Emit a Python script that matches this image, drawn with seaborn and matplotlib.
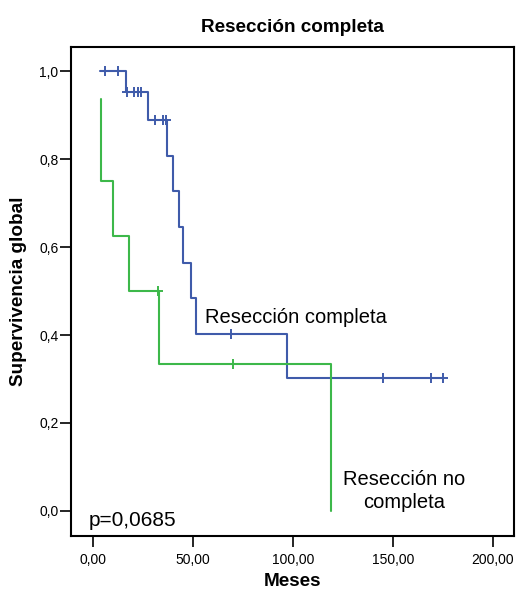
import matplotlib
matplotlib.use("Agg")
import matplotlib.pyplot as plt
import seaborn as sns

# Kaplan-Meier step curves (months, survival)
completa_t = [3.5, 16.5, 27.7, 37.0, 40.2, 43.2, 45.2, 49.0, 51.5, 96.8, 175.2]
completa_s = [1.0, 0.952, 0.889, 0.807, 0.727, 0.646, 0.564, 0.485, 0.403, 0.302, 0.302]
completa_cens = [6.0, 12.3, 17.0, 20.7, 22.3, 24.0, 31.0, 34.8, 36.5, 69.0, 145.2, 168.8, 175.2]

no_completa_t = [3.8, 3.8, 9.8, 18.0, 32.8, 119.0]
no_completa_s = [0.9375, 0.75, 0.625, 0.5, 0.333, 0.0]
no_completa_cens = [32.3, 70.2]

x_ticks = [0, 50, 100, 150, 200]
x_ticklabels = ["0,00", "50,00", "100,00", "150,00", "200,00"]
y_ticks = [0.0, 0.2, 0.4, 0.6, 0.8, 1.0]
y_ticklabels = ["0,0", "0,2", "0,4", "0,6", "0,8", "1,0"]

BLUE = "#3F5BAA"
GREEN = "#3DB84A"

sns.set_style("ticks")
plt.rcParams["font.family"] = ["Liberation Sans", "DejaVu Sans"]
plt.rcParams.update({
    "text.color": "black",
    "axes.labelcolor": "black",
    "xtick.color": "black",
    "ytick.color": "black",
    "axes.edgecolor": "black",
})


def step_value(times, surv, t):
    """Survival value of a steps-post curve at time t."""
    val = surv[0]
    for ti, si in zip(times, surv):
        if ti <= t:
            val = si
    return val


W, H = 518, 591
fig = plt.figure(figsize=(W / 100, H / 100), dpi=100)
ax = fig.add_axes([71 / W, 1 - 536 / H, (514 - 71) / W, (536 - 47) / H])

sns.lineplot(x=completa_t, y=completa_s, estimator=None, sort=False,
             drawstyle="steps-post", color=BLUE, lw=1.5, ax=ax)
sns.lineplot(x=no_completa_t, y=no_completa_s, estimator=None, sort=False,
             drawstyle="steps-post", color=GREEN, lw=1.5, ax=ax)

sns.scatterplot(x=completa_cens,
                y=[step_value(completa_t, completa_s, t) for t in completa_cens],
                marker="+", s=45, linewidth=1.4, color=BLUE, ax=ax, zorder=3)
sns.scatterplot(x=no_completa_cens,
                y=[step_value(no_completa_t, no_completa_s, t) for t in no_completa_cens],
                marker="+", s=45, linewidth=1.4, color=GREEN, ax=ax, zorder=3)

ax.set_xlim(-11, 210.5)
ax.set_ylim(-0.057, 1.055)
ax.set_xticks(x_ticks)
ax.set_xticklabels(x_ticklabels)
ax.set_yticks(y_ticks)
ax.set_yticklabels(y_ticklabels)
ax.tick_params(axis="both", direction="out", length=8, width=1.2,
               labelsize=10, color="black", labelcolor="black")
ax.tick_params(axis="x", pad=4)
ax.tick_params(axis="y", pad=1)
for sp in ax.spines.values():
    sp.set_visible(True)
    sp.set_linewidth(1.5)
    sp.set_color("black")

ax.set_xlabel("")
ax.set_ylabel("")
ax.set_title("Resección completa", fontsize=13.6, fontweight="bold", pad=10.8)
fig.text(292.5 / W, 1 - 586 / H, "Meses", fontsize=13.6, fontweight="bold",
         ha="center", va="baseline")
fig.text(18.5 / W, 1 - 291 / H, "Supervivencia global", fontsize=13.6,
         fontweight="bold", rotation=90, ha="center", va="center")

ax.text(56, 0.4266, "Resección completa", fontsize=14.5, va="baseline", ha="left")
ax.text(155.5, 0.059, "Resección no", fontsize=14.5, va="baseline", ha="center")
ax.text(155.5, 0.006, "completa", fontsize=14.5, va="baseline", ha="center")
ax.text(-2, -0.034, "p=0,0685", fontsize=15, va="baseline", ha="left")

fig.savefig("out.png", dpi=100)
